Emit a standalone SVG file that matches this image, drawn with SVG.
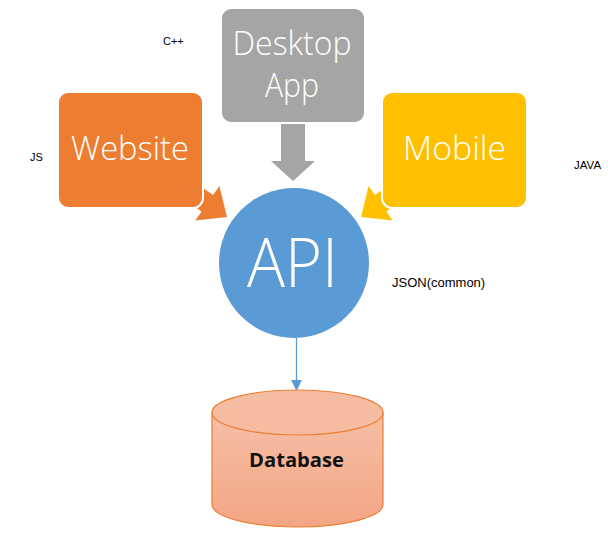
<svg xmlns="http://www.w3.org/2000/svg" width="608" height="553" viewBox="0 0 608 553">
<style>
.box{stroke:#FFFFFF;stroke-width:2}
.big{font-family:"Open Sans","Noto Sans","DejaVu Sans",sans-serif;font-weight:300;fill:#FFFFFF;text-anchor:middle}
.small{font-family:"Liberation Sans",Arial,sans-serif;fill:#000000}
.db{font-family:"Open Sans","Liberation Sans",sans-serif;font-weight:bold;fill:#111111;text-anchor:middle}
</style>
<defs>
<linearGradient id="dbgrad" x1="0" y1="0" x2="0" y2="1">
<stop offset="0" stop-color="#F6BFA6"/>
<stop offset="1" stop-color="#F3A584"/>
</linearGradient>
<marker id="bluehead" markerUnits="userSpaceOnUse" markerWidth="12" markerHeight="12" viewBox="0 0 12 12" refX="11" refY="6" orient="auto">
<polygon points="0,0.5 11,6 0,11.5" fill="#5B9BD5"/>
</marker>
</defs>
<g id="connectors">
<polygon id="arrow-desktop" points="281,118 305,118 305,161 315,161 293,181 271,161 281,161" fill="#A5A5A5"/>
<polygon id="arrow-website" transform="translate(227,217) rotate(35)" points="0,0 -24,-21 -24,-10 -55,-10 -55,10 -24,10 -24,21" fill="#ED7D31"/>
<polygon id="arrow-mobile" transform="translate(361,217) rotate(145)" points="0,0 -24,-21 -24,-10 -55,-10 -55,10 -24,10 -24,21" fill="#FFC000"/>
<line id="api-db" x1="296.5" y1="338" x2="296.5" y2="391" stroke="#5B9BD5" stroke-width="1.3" marker-end="url(#bluehead)"/>
</g>
<g id="node-desktop">
<rect class="box" x="221" y="8" width="144" height="115" rx="10" fill="#A5A5A5"/>
<text class="big" x="292" y="55" font-size="33" textLength="119" lengthAdjust="spacingAndGlyphs">Desktop</text>
<text class="big" x="292" y="97" font-size="33" textLength="54" lengthAdjust="spacingAndGlyphs">App</text>
</g>
<g id="node-website">
<rect class="box" x="58" y="92" width="145" height="116" rx="10" fill="#ED7D31"/>
<text class="big" x="130" y="160" font-size="33" textLength="118" lengthAdjust="spacingAndGlyphs">Website</text>
</g>
<g id="node-mobile">
<rect class="box" x="382" y="92" width="145" height="116" rx="10" fill="#FFC000"/>
<text class="big" x="454.5" y="160" font-size="33" textLength="103" lengthAdjust="spacingAndGlyphs">Mobile</text>
</g>
<g id="node-api">
<circle cx="294" cy="263" r="75" fill="#5B9BD5"/>
<text class="big" x="292.5" y="287" font-size="68" textLength="91" lengthAdjust="spacingAndGlyphs">API</text>
</g>
<g id="node-database">
<path d="M212,412.5 L212,504.5 A85.5,22.5 0 0 0 383,504.5 L383,412.5 Z" fill="url(#dbgrad)" stroke="#ED7D31" stroke-width="1.2"/>
<ellipse cx="297.5" cy="412.5" rx="85.5" ry="22.5" fill="#F6BCA2" stroke="#ED7D31" stroke-width="1.2"/>
<text class="db" x="296.5" y="467" font-size="19" textLength="95" lengthAdjust="spacingAndGlyphs">Database</text>
</g>
<g id="labels">
<text class="small" x="163" y="45" font-size="11">C++</text>
<text class="small" x="30" y="161" font-size="11">JS</text>
<text class="small" x="574" y="169" font-size="11.5">JAVA</text>
<text class="small" x="392" y="287" font-size="13">JSON(common)</text>
</g>
</svg>
